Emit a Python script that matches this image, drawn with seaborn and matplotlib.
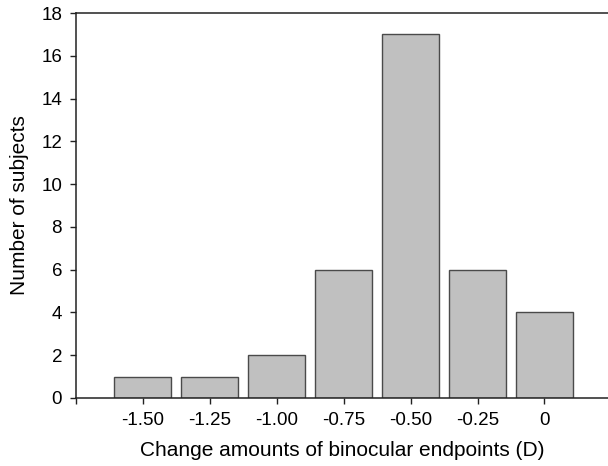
import matplotlib
matplotlib.use("Agg")
import matplotlib.pyplot as plt
import seaborn as sns

# histogram of change amounts
change_labels = ["-1.50", "-1.25", "-1.00", "-0.75", "-0.50", "-0.25", "0"]
subjects = [1, 1, 2, 6, 17, 6, 4]

sns.set_style("ticks")
plt.rcParams['font.family'] = ['Liberation Sans', 'DejaVu Sans']

fig = plt.figure(figsize=(6.08, 4.66), dpi=100)
ax = fig.add_axes([0.125, 0.146, 0.875, 0.826])

sns.barplot(x=change_labels, y=subjects, order=change_labels, color="#c0c0c0",
            saturation=1, edgecolor="#4a4a4a", linewidth=1.0, width=0.85, ax=ax)

ax.set_xlim(-1, 6.95)
ax.set_ylim(0, 18)
ax.set_yticks(range(0, 19, 2))
ax.set_xticks([-1], minor=True)
ax.tick_params(axis="both", which="both", direction="out", length=4.5, width=1,
               color="#222222", labelcolor="black", labelsize=13.5, pad=5.5)

for side in ["left", "bottom", "top"]:
    ax.spines[side].set_color("#222222")
    ax.spines[side].set_linewidth(1.1)
ax.spines["right"].set_visible(False)

ax.set_xlabel("Change amounts of binocular endpoints (D)", fontsize=15,
              color="black", labelpad=9)
ax.set_ylabel("Number of subjects", fontsize=15, color="black", labelpad=9)

fig.savefig("out.png", dpi=100)
